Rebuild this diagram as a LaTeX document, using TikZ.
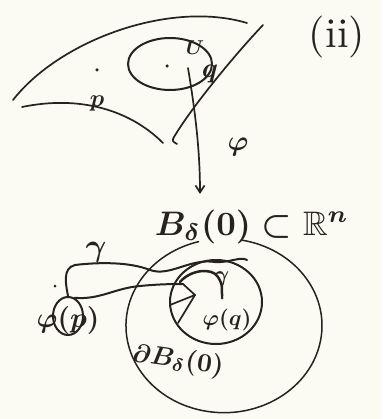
\documentclass[tikz,border=0pt]{standalone}
\usepackage{amssymb}
\usetikzlibrary{arrows.meta,shapes.geometric}
\definecolor{ink}{RGB}{38,34,30}
\definecolor{paper}{RGB}{252,251,243}
\begin{document}
\begin{tikzpicture}[x=1pt,y=1pt,line cap=round,line join=round,
  pen/.style={draw=ink,line width=1.7pt},
  thick pen/.style={draw=ink,line width=2.5pt},
  dotnode/.style={circle,fill=ink,inner sep=0pt,minimum size=3.5pt},
  lbl/.style={text=ink,inner sep=0pt,font=\boldmath}]
\fill[paper] (0,0) rectangle (382,-419);
\useasboundingbox (0,0) rectangle (382,-419);

% manifold sheet
\draw[pen] (13,-100) .. controls (60,-40) and (170,0) .. (247,-23);
\draw[pen] (22,-107) .. controls (80,-95) and (130,-110) .. (163,-143);
\draw[pen] (263,-25) .. controls (230,-60) and (190,-110) .. (174,-137) .. controls (172,-141) .. (177,-144);

% neighbourhood U
\node[pen,line width=2pt,ellipse,minimum width=84pt,minimum height=52pt] (U) at (170,-64) {};
\node[dotnode] (ucen) at (167,-66) {};
\node[lbl,scale=2.0] (Ul) at (195,-48) {$U$};
\node[lbl,scale=2.8] (ql) at (210,-74) {$q$};

% point p
\node[dotnode] (p) at (97,-70) {};
\node[lbl,scale=2.4] (pl) at (97,-104) {$p$};

% (ii)
\node[lbl,scale=4.2] (num) at (337,-37) {(ii)};

% chart map
\coordinate (phis) at (188,-68);
\coordinate (phie) at (200,-194);
\draw[pen,-{Straight Barb[length=7pt,width=9pt]}] (phis) .. controls (195,-110) and (200,-150) .. (phie);
\node[lbl,scale=2.8] (phil) at (238,-147) {$\varphi$};

% ball label
\node[lbl,anchor=base,scale=3.4] (B) at (252,-235) {$B_\delta(0)\subset\mathbb{R}^n$};

% big ball (with a gap at the top)
\coordinate (bigc) at (224,-326);
\draw[pen,line width=1.5pt] (241,-240) arc[start angle=80,end angle=-255,x radius=98pt,y radius=87pt];

% small ball
\node[pen,line width=2pt,ellipse,minimum width=92pt,minimum height=84pt] (small) at (216,-302) {};
\node[lbl,scale=2.2] (fql) at (227,-320) {$\varphi(q)$};
\node[dotnode,minimum size=3pt] (fq) at (222,-298) {};

% phi(p)
\node[dotnode,minimum size=3pt] (fpdot) at (55,-286) {};
\node[pen,line width=2pt,ellipse,minimum width=30pt,minimum height=38pt] (pc) at (68,-316) {};
\node[lbl,scale=2.8] (fpl) at (68,-320) {$\varphi(p)$};

% curves gamma
\draw[pen,line width=2pt] (pc.north) .. controls (66,-285) and (62,-268) .. (75,-265)
  .. controls (100,-262) and (130,-262) .. (150,-270)
  .. controls (170,-277) and (190,-258) .. (215,-262)
  .. controls (230,-263) and (240,-256) .. (247,-260);
\node[lbl,scale=3.2] (g1) at (96,-252) {$\gamma$};

\coordinate (wa) at (183,-284);
\coordinate (wb) at (195,-295);
\coordinate (wc) at (170,-305);
\coordinate (wd) at (178,-323);
\draw[pen,line width=2pt] (pc.70) .. controls (100,-300) and (115,-288) .. (140,-286)
  .. controls (160,-284) and (175,-284) .. (wa);
\draw[pen] (wa) -- (wb) -- (wc);
\draw[pen] (wb) -- (wd);
\draw[thick pen] (180,-282) .. controls (190,-270) and (212,-267) .. (218,-277)
  .. controls (222,-284) .. (fq);
\node[lbl,scale=2.2] (g2) at (222,-279) {$\gamma$};

% boundary label
\node[lbl,rotate=-8,scale=2.6] (dB) at (178,-361) {$\partial B_\delta(0)$};
\end{tikzpicture}
\end{document}
